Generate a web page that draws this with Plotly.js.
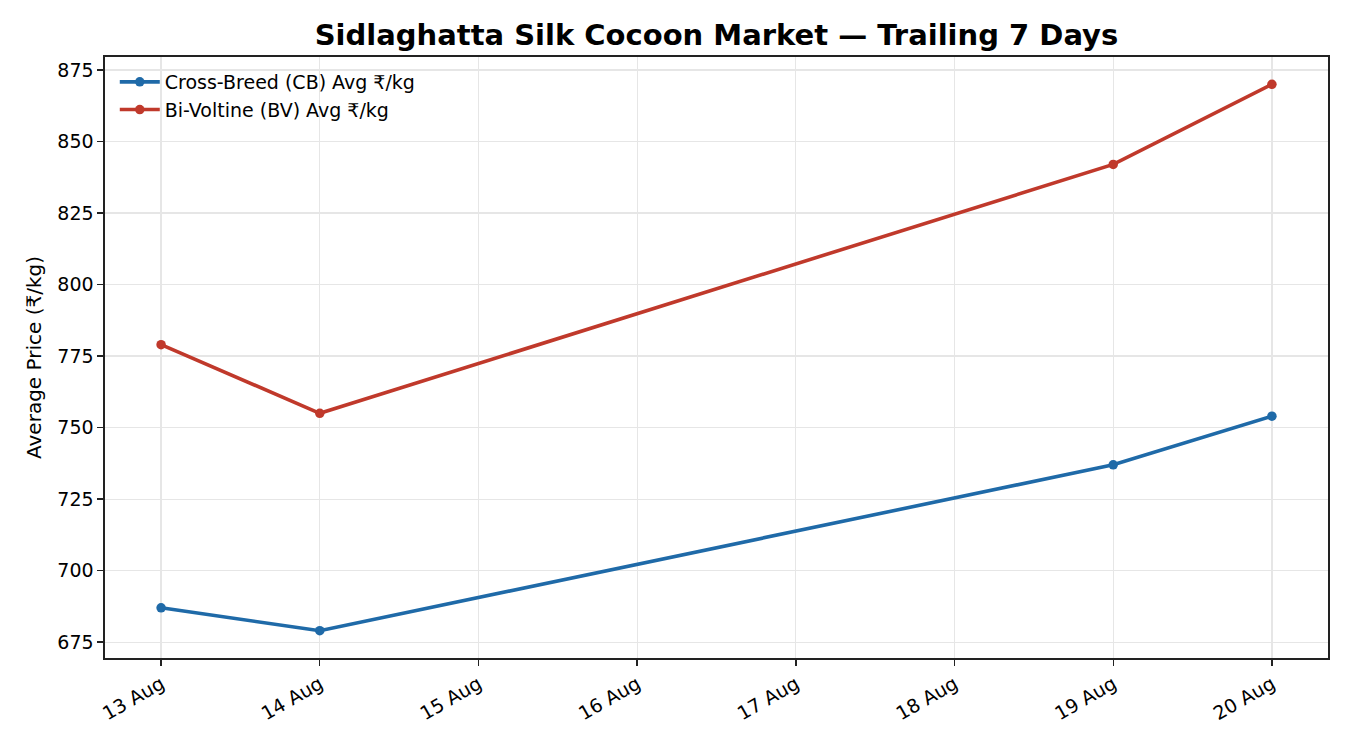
<!DOCTYPE html>
<html>
<head>
<meta charset="utf-8">
<script src="https://cdn.plot.ly/plotly-3.0.1.min.js"></script>
<style>html,body{margin:0;padding:0;background:#fff;}</style>
</head>
<body>
<div id="chart" style="width:1350px;height:750px;"></div>
<script>
const dates = ["2024-08-13", "2024-08-14", "2024-08-19", "2024-08-20"];
const cbAvg = [687, 679, 737, 754];
const bvAvg = [779, 755, 842, 870];
const tickDates = ["2024-08-13","2024-08-14","2024-08-15","2024-08-16","2024-08-17","2024-08-18","2024-08-19","2024-08-20"];
const tickLabels = ["13 Aug","14 Aug","15 Aug","16 Aug","17 Aug","18 Aug","19 Aug","20 Aug"];
const yTicks = [675, 700, 725, 750, 775, 800, 825, 850, 875];

const traces = [
  {x: dates, y: cbAvg, name: "Cross-Breed (CB) Avg ₹/kg", mode: "lines+markers",
   line: {color: "#1f6aa8", width: 3.6}, marker: {color: "#1f6aa8", size: 9.5}},
  {x: dates, y: bvAvg, name: "Bi-Voltine (BV) Avg ₹/kg", mode: "lines+markers",
   line: {color: "#c0392b", width: 3.6}, marker: {color: "#c0392b", size: 9.5}}
];

const layout = {
  width: 1350, height: 750,
  paper_bgcolor: "#fff", plot_bgcolor: "#fff",
  margin: {l: 105, r: 22, t: 57, b: 92},
  font: {family: "DejaVu Sans, sans-serif", size: 19, color: "#000"},
  title: {text: "<b>Sidlaghatta Silk Cocoon Market — Trailing 7 Days</b>", x: 0.5, xref: "paper",
          y: 0.953, yref: "container", yanchor: "middle",
          font: {size: 29, family: "DejaVu Sans, sans-serif", color: "#000"}},
  showlegend: true,
  legend: {x: 0.008, y: 0.99, xanchor: "left", yanchor: "top", bgcolor: "rgba(0,0,0,0)",
           font: {size: 19}, tracegroupgap: 2, itemwidth: 40},
  xaxis: {type: "date", range: ["2024-08-12 15:31", "2024-08-20 08:29"],
          tickvals: tickDates, ticktext: tickLabels, tickangle: -30,
          showgrid: true, gridcolor: "#e6e6e6", gridwidth: 1.2,
          showline: true, linecolor: "#222", linewidth: 1.6, mirror: true,
          ticks: "outside", ticklen: 6, tickcolor: "#222", tickwidth: 1.4,
          tickfont: {size: 19}, zeroline: false},
  yaxis: {range: [669.45, 879.55], tickvals: yTicks,
          title: {text: "Average Price (₹/kg)", font: {size: 20}, standoff: 10},
          showgrid: true, gridcolor: "#e6e6e6", gridwidth: 1.2,
          showline: true, linecolor: "#222", linewidth: 1.6, mirror: true,
          ticks: "outside", ticklen: 6, tickcolor: "#222", tickwidth: 1.4,
          tickfont: {size: 19}, zeroline: false}
};

Plotly.newPlot("chart", traces, layout, {displayModeBar: false, staticPlot: true});
</script>
</body>
</html>
